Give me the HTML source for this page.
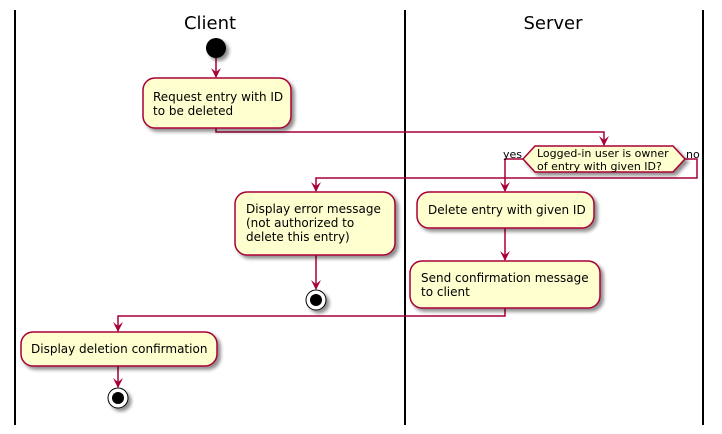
<!DOCTYPE html>
<html><head><meta charset="utf-8"><style>
html,body{margin:0;padding:0;background:#fff;}
svg{display:block;}
text{font-family:"DejaVu Sans","Liberation Sans",sans-serif;font-size:12px;fill:#000;}
text.s{font-size:11px;}
</style></head><body>
<svg width="722" height="434" viewBox="0 0 722 434" xmlns="http://www.w3.org/2000/svg">
<defs>
<filter id="sh" x="-20%" y="-20%" width="150%" height="150%"><feGaussianBlur in="SourceAlpha" stdDeviation="1.8"/><feOffset dx="3" dy="3"/><feComponentTransfer><feFuncA type="linear" slope="0.45"/></feComponentTransfer><feMerge><feMergeNode/><feMergeNode in="SourceGraphic"/></feMerge></filter>
<marker id="ar" viewBox="0 0 10 10" refX="9" refY="5" markerWidth="10" markerHeight="10" orient="auto" markerUnits="userSpaceOnUse"><path d="M0,0 L10,5 L0,10 L4,5 Z" fill="#A80036"/></marker>
</defs>
<g stroke="#000" stroke-width="2">
<line x1="15" y1="10" x2="15" y2="425"/><line x1="405" y1="10" x2="405" y2="425"/><line x1="703" y1="10" x2="703" y2="425"/>
</g>
<text x="210" y="29" text-anchor="middle" style="font-size:18px">Client</text>
<text x="553" y="29" text-anchor="middle" style="font-size:18px">Server</text>
<g fill="none" stroke="#A80036" stroke-width="1.5">
<path d="M216,58 V77" marker-end="url(#ar)"/>
<path d="M216,128 V132 H604 V145" marker-end="url(#ar)"/>
<path d="M523,159 H505 V191" marker-end="url(#ar)"/>
<path d="M685,159 H697 V178 H316 V191" marker-end="url(#ar)"/>
<path d="M316,255 V289" marker-end="url(#ar)"/>
<path d="M505,228 V260" marker-end="url(#ar)"/>
<path d="M505,308 V316 H118 V331" marker-end="url(#ar)"/>
<path d="M118,366 V387" marker-end="url(#ar)"/>
</g>
<g fill="#FEFECE" stroke="#A80036" stroke-width="1.5" filter="url(#sh)">
<rect x="143" y="78" width="148" height="50" rx="12"/>
<polygon points="523,159 535,146 673,146 685,159 673,172 535,172"/>
<rect x="235" y="192" width="160" height="63" rx="12"/>
<rect x="417" y="192" width="177" height="36" rx="12"/>
<rect x="410" y="261" width="190" height="47" rx="12"/>
<rect x="21" y="332" width="196" height="34" rx="12"/>
</g>
<circle cx="216" cy="48" r="10" fill="#000" filter="url(#sh)"/>
<g filter="url(#sh)"><circle cx="316" cy="300" r="10" fill="#fff" stroke="#000" stroke-width="1"/><circle cx="316" cy="300" r="6" fill="#000"/></g>
<g filter="url(#sh)"><circle cx="118" cy="398" r="10" fill="#fff" stroke="#000" stroke-width="1"/><circle cx="118" cy="398" r="6" fill="#000"/></g>
<text x="153" y="101">Request entry with ID</text>
<text x="153" y="115">to be deleted</text>
<text class="s" x="537" y="157">Logged-in user is owner</text>
<text class="s" x="537" y="170">of entry with given ID?</text>
<text class="s" x="503" y="158">yes</text>
<text class="s" x="686" y="158">no</text>
<text x="246" y="213">Display error message</text>
<text x="246" y="227">(not authorized to</text>
<text x="246" y="241">delete this entry)</text>
<text x="428" y="214">Delete entry with given ID</text>
<text x="421" y="282">Send confirmation message</text>
<text x="421" y="296">to client</text>
<text x="31" y="353">Display deletion confirmation</text>
</svg>
</body></html>
